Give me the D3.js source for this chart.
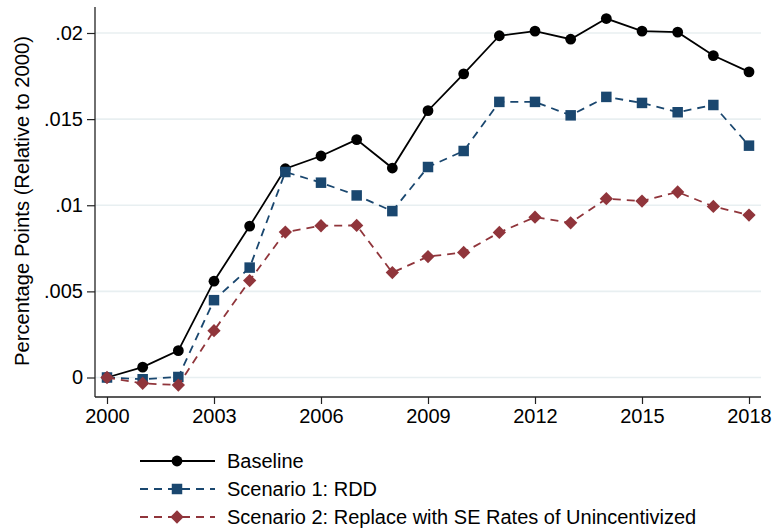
<!DOCTYPE html>
<html>
<head>
<meta charset="utf-8">
<script src="https://cdn.jsdelivr.net/npm/d3@7"></script>
<style>
  body { margin: 0; background: #fff; }
  svg { display: block; font-family: "Liberation Sans", Arial, sans-serif; }
</style>
</head>
<body>
<script>
// values
var years = [2000, 2001, 2002, 2003, 2004, 2005, 2006, 2007, 2008, 2009,
             2010, 2011, 2012, 2013, 2014, 2015, 2016, 2017, 2018];
var baseline = [0, 0.0006, 0.00156, 0.00559, 0.00879, 0.01212, 0.01286, 0.01381, 0.01216, 0.01549,
                0.01763, 0.01984, 0.02011, 0.01964, 0.02084, 0.02011, 0.02005, 0.01869, 0.01774];
var scenario1 = [0, -0.0001, 0.00003, 0.00449, 0.00638, 0.01193, 0.01131, 0.01057, 0.00966, 0.01222,
                 0.01315, 0.016, 0.016, 0.01522, 0.01629, 0.01594, 0.0154, 0.01582, 0.01346];
var scenario2 = [0, -0.00034, -0.00044, 0.00272, 0.00563, 0.00844, 0.00881, 0.00883, 0.00609, 0.00702,
                 0.00726, 0.00842, 0.00931, 0.00898, 0.01038, 0.01024, 0.01077, 0.00993, 0.00943];
var xTicks = [2000, 2003, 2006, 2009, 2012, 2015, 2018];
var yTicks = [0, 0.005, 0.01, 0.015, 0.02];
var yTickLabels = ["0", ".005", ".01", ".015", ".02"];
var seriesNames = ["Baseline", "Scenario 1: RDD", "Scenario 2: Replace with SE Rates of Unincentivized"];

var W = 772, H = 529;
var fontSize = 20;

var svg = d3.select("body").append("svg")
  .attr("width", W).attr("height", H);

// linear scales fitted to the pixel positions of the ticks
var x = d3.scaleLinear().domain([2000, 2018]).range([107, 749]);
var y = d3.scaleLinear().domain([0, 0.02]).range([377.5, 33]);

var plotLeft = 95, plotRight = 761, plotTop = 7, plotBottom = 397;

// gridlines
svg.append("g").selectAll("line")
  .data(yTicks).enter().append("line")
  .attr("x1", plotLeft).attr("x2", plotRight)
  .attr("y1", function(d) { return y(d); })
  .attr("y2", function(d) { return y(d); })
  .attr("stroke", "#e8eff1")
  .attr("stroke-width", 1.6);

// y axis
var yAxis = d3.axisLeft(y).tickValues(yTicks)
  .tickFormat(function(d, i) { return yTickLabels[i]; })
  .tickSize(8).tickPadding(4).tickSizeOuter(0);
var gy = svg.append("g").attr("transform", "translate(" + plotLeft + ",0)").call(yAxis);
gy.select(".domain").remove();
gy.append("line")
  .attr("x1", 0).attr("x2", 0).attr("y1", plotTop).attr("y2", plotBottom)
  .attr("stroke", "#222").attr("stroke-width", 1.3);

// x axis
var xAxis = d3.axisBottom(x).tickValues(xTicks)
  .tickFormat(d3.format("d"))
  .tickSize(7).tickPadding(5).tickSizeOuter(0);
var gx = svg.append("g").attr("transform", "translate(0," + plotBottom + ")").call(xAxis);
gx.select(".domain").remove();
gx.append("line")
  .attr("x1", plotLeft).attr("x2", plotRight).attr("y1", 0).attr("y2", 0)
  .attr("stroke", "#222").attr("stroke-width", 1.3);

svg.selectAll(".tick line").attr("stroke", "#222").attr("stroke-width", 1.2);
svg.selectAll(".tick text")
  .attr("font-size", fontSize)
  .attr("font-family", "'Liberation Sans', Arial, sans-serif")
  .attr("fill", "#000");

// y title
svg.append("text")
  .attr("transform", "translate(29," + ((plotTop + plotBottom) / 2 - 1) + ") rotate(-90)")
  .attr("text-anchor", "middle")
  .attr("font-size", 20.2)
  .attr("fill", "#000")
  .text("Percentage Points (Relative to 2000)");

// series
var series = [
  { name: seriesNames[0], values: baseline, color: "#000000", dash: null, marker: "circle" },
  { name: seriesNames[1], values: scenario1, color: "#1a476f", dash: "8,6", marker: "square" },
  { name: seriesNames[2], values: scenario2, color: "#90353b", dash: "8,6", marker: "diamond" }
];

var symbols = {
  circle: d3.symbol().type(d3.symbolCircle).size(Math.PI * 5.4 * 5.4),
  square: d3.symbol().type(d3.symbolSquare).size(10.5 * 10.5),
  diamond: d3.symbol().type(d3.symbolSquare).size(9.4 * 9.4)
};

function drawMarker(g, s, px, py) {
  var p = g.append("path")
    .attr("d", symbols[s.marker]())
    .attr("fill", s.color);
  if (s.marker === "diamond") {
    p.attr("transform", "translate(" + px + "," + py + ") rotate(45)");
  } else {
    p.attr("transform", "translate(" + px + "," + py + ")");
  }
}

var line = d3.line()
  .x(function(d) { return x(d[0]); })
  .y(function(d) { return y(d[1]); });

series.forEach(function(s) {
  var pts = years.map(function(yr, i) { return [yr, s.values[i]]; });
  var g = svg.append("g");
  g.append("path")
    .datum(pts)
    .attr("d", line)
    .attr("fill", "none")
    .attr("stroke", s.color)
    .attr("stroke-width", 1.8)
    .attr("stroke-dasharray", s.dash);
  pts.forEach(function(p) { drawMarker(g, s, x(p[0]), y(p[1])); });
});

// legend
var legend = svg.append("g");
series.forEach(function(s, i) {
  var cy = 461 + i * 28;
  legend.append("line")
    .attr("x1", 140).attr("x2", 215).attr("y1", cy).attr("y2", cy)
    .attr("stroke", s.color).attr("stroke-width", 1.8)
    .attr("stroke-dasharray", s.dash);
  drawMarker(legend, s, 177, cy);
  legend.append("text")
    .attr("x", 227).attr("y", cy + 7)
    .attr("font-size", fontSize)
    .attr("fill", "#000")
    .text(s.name);
});
</script>
</body>
</html>
